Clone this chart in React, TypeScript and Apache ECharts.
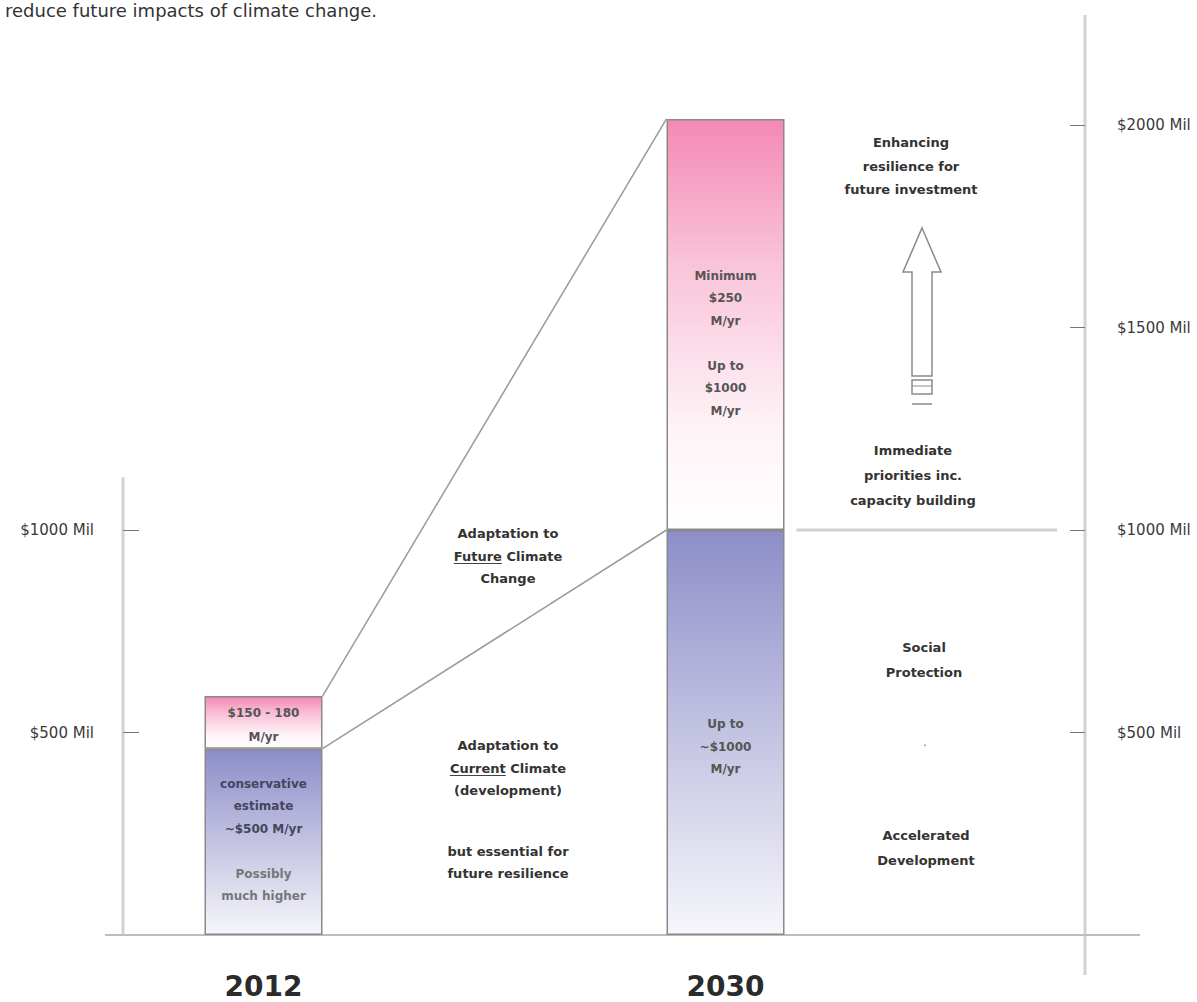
import React, { useEffect, useRef } from "react";
import * as echarts from "echarts";

// ---------- data ----------
const categories = ["2012", "gap", "2030", "right"];
// lower (blue) segment: adaptation to current climate / development
const currentClimate = [460, null, 1000, null];
// upper (pink) segment: adaptation to future climate change
const futureClimate = [130, null, 1015, null];
const leftTickValues = [500, 1000];
const rightTickValues = [500, 1000, 1500, 2000];
const axisMax = 2200;

const titleText = "reduce future impacts of climate change.";
const label2012Future = ["$150 - 180", "M/yr"];
const label2012CurrentBold = ["conservative", "estimate", "~$500 M/yr"];
const label2012CurrentLight = ["Possibly", "much higher"];
const label2030Future = ["Minimum", "$250", "M/yr", "", "Up to", "$1000", "M/yr"];
const label2030Current = ["Up to", "~$1000", "M/yr"];

const FONT = '"DejaVu Sans", Verdana, sans-serif';

// ---------- layout ----------
const W = 1197;
const H = 1002;
const GRID = { left: 148, right: 125, top: 44, bottom: 67 };
const BAR_W = 118;
const LEFT_AXIS_OFFSET = 25;
const RIGHT_AXIS_OFFSET = 13;

const annotations = [
  { lines: ["Adaptation to", "Future Climate", "Change"], x: 508, y: 556, lh: 22.5, underline: { line: 1, word: "Future" } },
  { lines: ["Adaptation to", "Current Climate", "(development)"], x: 508, y: 768, lh: 22.5, underline: { line: 1, word: "Current" } },
  { lines: ["but essential for", "future resilience"], x: 508, y: 862, lh: 22 },
  { lines: ["Enhancing", "resilience for", "future investment"], x: 911, y: 166, lh: 23.5 },
  { lines: ["Immediate", "priorities inc.", "capacity building"], x: 913, y: 475, lh: 25 },
  { lines: ["Social", "Protection"], x: 924, y: 660, lh: 25 },
  { lines: ["Accelerated", "Development"], x: 926, y: 848, lh: 25 },
];

function blueGradient() {
  return new echarts.graphic.LinearGradient(0, 0, 0, 1, [
    { offset: 0, color: "#8d8dc9" },
    { offset: 0.5, color: "#c3c3e2" },
    { offset: 1, color: "#f6f6fb" },
  ]);
}
function pinkGradient() {
  return new echarts.graphic.LinearGradient(0, 0, 0, 1, [
    { offset: 0, color: "#f589b4" },
    { offset: 0.35, color: "#f9c3d9" },
    { offset: 0.75, color: "#fef3f7" },
    { offset: 1, color: "#ffffff" },
  ]);
}

export default function App() {
  const ref = useRef<HTMLDivElement>(null);

  useEffect(() => {
    if (!ref.current) return;
    const chart = echarts.init(ref.current, null, { renderer: "svg" });

    const barLabelBase = {
      show: true,
      position: "inside",
      color: "#555",
      fontFamily: FONT,
      fontSize: 12,
      fontWeight: "bold",
      lineHeight: 22.5,
      align: "center",
    };

    const blueData = currentClimate.map((v, i) => {
      if (v == null) return "-";
      if (i === 0) {
        return {
          value: v,
          label: {
            ...barLabelBase,
            offset: [0, -2],
            formatter: [
              ...label2012CurrentBold.map((t) => `{b|${t}}`),
              "{n| }",
              ...label2012CurrentLight.map((t) => `{n|${t}}`),
            ].join("\n"),
            rich: {
              b: { fontFamily: FONT, fontSize: 12, fontWeight: "bold", color: "#454560", lineHeight: 22.5 },
              n: { fontFamily: FONT, fontSize: 12, fontWeight: "bold", color: "#777", lineHeight: 22.5 },
            },
          },
        };
      }
      return {
        value: v,
        label: { ...barLabelBase, offset: [0, 14], formatter: label2030Current.join("\n") },
      };
    });

    const pinkData = futureClimate.map((v, i) => {
      if (v == null) return "-";
      if (i === 0) {
        return {
          value: v,
          label: { ...barLabelBase, lineHeight: 24, offset: [0, 3], formatter: label2012Future.join("\n") },
        };
      }
      return {
        value: v,
        label: { ...barLabelBase, offset: [0, 19], formatter: label2030Future.map((t) => (t === "" ? " " : t)).join("\n") },
      };
    });

    chart.setOption({
      animation: false,
      backgroundColor: "#ffffff",
      grid: { ...GRID, containLabel: false, outerBoundsMode: "none" },
      xAxis: {
        type: "category",
        data: categories,
        axisLine: { show: false },
        axisTick: { show: false },
        splitLine: { show: false },
        axisLabel: {
          interval: 0,
          formatter: (v: string) => (/^\d{4}$/.test(v) ? v : ""),
          fontFamily: FONT,
          fontSize: 28,
          fontWeight: "bold",
          color: "#2b2b2b",
          margin: 37,
        },
      },
      yAxis: [
        {
          type: "value",
          position: "left",
          offset: LEFT_AXIS_OFFSET,
          min: 0,
          max: axisMax,
          splitLine: { show: false },
          axisLine: { show: false },
          axisTick: {
            show: true,
            inside: true,
            length: 16,
            customValues: leftTickValues,
            lineStyle: { color: "#777", width: 1 },
          },
          axisLabel: {
            show: true,
            customValues: leftTickValues,
            formatter: (v: number) => `$${v} Mil`,
            margin: 29,
            fontFamily: FONT,
            fontSize: 15,
            color: "#3a3a3a",
          },
        },
        {
          type: "value",
          position: "right",
          offset: RIGHT_AXIS_OFFSET,
          min: 0,
          max: axisMax,
          splitLine: { show: false },
          axisLine: { show: false },
          axisTick: {
            show: true,
            inside: true,
            length: 15,
            customValues: rightTickValues,
            lineStyle: { color: "#777", width: 1 },
          },
          axisLabel: {
            show: true,
            customValues: rightTickValues,
            formatter: (v: number) => `$${v} Mil`,
            margin: 32,
            fontFamily: FONT,
            fontSize: 15,
            color: "#3a3a3a",
          },
        },
      ],
      series: [
        {
          name: "Adaptation to current climate",
          type: "bar",
          stack: "total",
          barWidth: BAR_W,
          data: blueData,
          itemStyle: { color: blueGradient(), borderColor: "#8a8a8a", borderWidth: 1.5 },
        },
        {
          name: "Adaptation to future climate change",
          type: "bar",
          stack: "total",
          barWidth: BAR_W,
          data: pinkData,
          itemStyle: { color: pinkGradient(), borderColor: "#8a8a8a", borderWidth: 1.5 },
        },
      ],
    });

    // ----- decorations computed through the chart's own scales -----
    const px = (cat: string, v: number) =>
      chart.convertToPixel({ xAxisIndex: 0, yAxisIndex: 0 }, [cat, v]) as number[];
    const total2012 = (currentClimate[0] as number) + (futureClimate[0] as number);
    const total2030 = (currentClimate[2] as number) + (futureClimate[2] as number);
    const half = BAR_W / 2;

    const a = px("2012", total2012);
    const b = px("2030", total2030);
    const c = px("2012", currentClimate[0] as number);
    const d = px("2030", currentClimate[2] as number);
    const zero = px("2012", 0)[1];
    const leftAxisX = GRID.left - LEFT_AXIS_OFFSET;
    const rightAxisX = W - GRID.right + RIGHT_AXIS_OFFSET;
    const leftAxisTop = px("2012", 1130)[1];

    const canvas = document.createElement("canvas");
    const ctx = canvas.getContext("2d")!;

    const graphics: any[] = [
      // title fragment
      {
        type: "text",
        x: 5,
        y: 1,
        style: { text: titleText, fill: "#333", font: `18px ${FONT}`, verticalAlign: "top" },
      },
      // axis lines
      {
        type: "line",
        shape: { x1: leftAxisX, y1: leftAxisTop, x2: leftAxisX, y2: zero },
        style: { stroke: "#d2d2d2", lineWidth: 3 },
      },
      {
        type: "line",
        shape: { x1: rightAxisX, y1: 15, x2: rightAxisX, y2: 975 },
        style: { stroke: "#d2d2d2", lineWidth: 3 },
      },
      {
        type: "line",
        shape: { x1: 105, y1: zero, x2: 1140, y2: zero },
        style: { stroke: "#bdbdbd", lineWidth: 2 },
      },
      // connectors
      {
        type: "line",
        shape: { x1: a[0] + half, y1: a[1], x2: b[0] - half, y2: b[1] },
        style: { stroke: "#9a9a9a", lineWidth: 1.5 },
      },
      {
        type: "line",
        shape: { x1: c[0] + half, y1: c[1], x2: d[0] - half, y2: d[1] },
        style: { stroke: "#9a9a9a", lineWidth: 1.5 },
      },
      // divider at $1000
      {
        type: "line",
        shape: { x1: d[0] + half + 12, y1: d[1], x2: rightAxisX - 28, y2: d[1] },
        style: { stroke: "#d0d0d0", lineWidth: 3 },
      },
      // hollow up arrow
      {
        type: "polygon",
        shape: {
          points: [
            [922, 228],
            [941, 272],
            [932, 272],
            [932, 376],
            [912, 376],
            [912, 272],
            [903, 272],
          ],
        },
        style: { fill: "#ffffff", stroke: "#8a8a8a", lineWidth: 1.5 },
      },
      {
        type: "rect",
        shape: { x: 912, y: 380, width: 20, height: 14 },
        style: { fill: "#ffffff", stroke: "#8a8a8a", lineWidth: 1.5 },
      },
      {
        type: "line",
        shape: { x1: 912, y1: 386, x2: 932, y2: 386 },
        style: { stroke: "#8a8a8a", lineWidth: 1 },
      },
      {
        type: "line",
        shape: { x1: 912, y1: 404, x2: 932, y2: 404 },
        style: { stroke: "#8a8a8a", lineWidth: 1.5 },
      },
      {
        type: "text",
        x: 925,
        y: 746,
        style: { text: "·", fill: "#777", font: `12px ${FONT}`, align: "center", verticalAlign: "middle" },
      },
    ];

    const annFont = `bold 13px ${FONT}`;
    ctx.font = annFont;
    annotations.forEach((an) => {
      graphics.push({
        type: "text",
        x: an.x,
        y: an.y,
        style: {
          text: an.lines.join("\n"),
          fill: "#333",
          font: annFont,
          lineHeight: an.lh,
          align: "center",
          verticalAlign: "middle",
        },
      });
      if (an.underline) {
        const lineText = an.lines[an.underline.line];
        const lw = ctx.measureText(lineText).width;
        const ww = ctx.measureText(an.underline.word).width;
        const n = an.lines.length;
        const lineCenterY = an.y + (an.underline.line - (n - 1) / 2) * an.lh;
        const x0 = an.x - lw / 2;
        graphics.push({
          type: "line",
          shape: { x1: x0, y1: lineCenterY + 7.5, x2: x0 + ww, y2: lineCenterY + 7.5 },
          style: { stroke: "#444", lineWidth: 1 },
        });
      }
    });

    chart.setOption({ graphic: graphics });

    return () => chart.dispose();
  }, []);

  return (
    <div
      ref={ref}
      style={{ position: "fixed", left: 0, top: 0, width: W, height: H, background: "#fff" }}
    />
  );
}
